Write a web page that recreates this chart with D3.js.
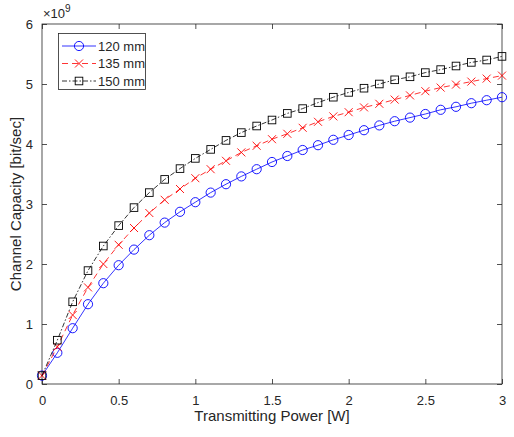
<!DOCTYPE html>
<html><head><meta charset="utf-8">
<script src="https://cdn.jsdelivr.net/npm/d3@7"></script>
<style>body{margin:0;background:#fff}svg{display:block}text{font-family:"Liberation Sans",Arial,sans-serif;fill:#262626}</style>
</head><body><svg id="c" width="514" height="437"></svg>
<script>
// Transmitting power [W]
const power = d3.range(31).map(i => +(i * 0.1).toFixed(1));
// Channel capacity in units of 1e9 bit/sec
const cap120 = [0.14,0.52,0.93,1.33,1.68,1.98,2.24,2.48,2.69,2.87,3.03,3.19,3.33,3.46,3.58,3.70,3.80,3.90,3.98,4.07,4.15,4.23,4.31,4.38,4.44,4.50,4.57,4.62,4.68,4.73,4.78];
const cap135 = [0.14,0.62,1.15,1.61,2.00,2.32,2.60,2.85,3.07,3.25,3.43,3.58,3.72,3.86,3.97,4.08,4.17,4.27,4.37,4.46,4.53,4.61,4.67,4.74,4.81,4.88,4.94,4.99,5.04,5.09,5.14];
const cap150 = [0.14,0.73,1.37,1.89,2.30,2.64,2.94,3.19,3.41,3.59,3.76,3.91,4.06,4.19,4.30,4.40,4.51,4.59,4.69,4.78,4.86,4.93,5.00,5.07,5.12,5.19,5.24,5.30,5.36,5.40,5.46];
const seriesNames = ["120 mm","135 mm","150 mm"];
const xTicks = [0,0.5,1,1.5,2,2.5,3];
const yTicks = [0,1,2,3,4,5,6];

const series = [
  {name: seriesNames[0], values: cap120, color: "#0000ff", dash: null, marker: "circle"},
  {name: seriesNames[1], values: cap135, color: "#ff0000", dash: "6,4", marker: "x"},
  {name: seriesNames[2], values: cap150, color: "#000000", dash: "5,2,1.5,2", marker: "square"}
];

const svg = d3.select("#c");
const L = 42, R = 502, T = 24, B = 384;
const x = d3.scaleLinear().domain([0,3]).range([L,R]);
const y = d3.scaleLinear().domain([0,6]).range([B,T]);
const axisCol = "#262626";

function styleAxis(g){
  g.select(".domain").remove();
  g.selectAll("line").attr("stroke", axisCol).attr("stroke-width", 0.8);
  g.selectAll("text").style("font-size","13px").attr("fill", axisCol);
}
const fmt = d => d3.format("")(d);
svg.append("g").attr("transform",`translate(0,${B})`)
  .call(d3.axisBottom(x).tickValues(xTicks).tickSize(-5).tickPadding(12).tickFormat(fmt)).call(styleAxis);
svg.append("g").attr("transform",`translate(0,${T})`)
  .call(d3.axisTop(x).tickValues(xTicks).tickSize(-5).tickFormat("")).call(styleAxis);
svg.append("g").attr("transform",`translate(${L},0)`)
  .call(d3.axisLeft(y).tickValues(yTicks).tickSize(-5).tickPadding(9).tickFormat(fmt)).call(styleAxis);
svg.append("g").attr("transform",`translate(${R},0)`)
  .call(d3.axisRight(y).tickValues(yTicks).tickSize(-5).tickFormat("")).call(styleAxis);

svg.append("rect").attr("x",L).attr("y",T).attr("width",R-L).attr("height",B-T)
  .attr("fill","none").attr("stroke",axisCol).attr("stroke-width",0.8);

// exponent
const ex = svg.append("text").attr("x",L+1).attr("y",T-6).style("font-size","13px");
ex.append("tspan").text("\u00d710");
ex.append("tspan").attr("dy",-6).style("font-size","10px").text("9");

svg.append("text").attr("x",(L+R)/2).attr("y",421).attr("text-anchor","middle").style("font-size","15px").text("Transmitting Power [W]");
svg.append("text").attr("transform",`translate(21,${(T+B)/2}) rotate(-90)`).attr("text-anchor","middle").style("font-size","15px").text("Channel Capacity [bit/sec]");

function drawMarker(g, type, cx, cy, color){
  if(type==="circle"){
    g.append("circle").attr("cx",cx).attr("cy",cy).attr("r",4.6).attr("fill","none").attr("stroke",color).attr("stroke-width",0.9);
  } else if(type==="x"){
    const s=4;
    g.append("path").attr("d",`M${cx-s},${cy-s}L${cx+s},${cy+s}M${cx-s},${cy+s}L${cx+s},${cy-s}`).attr("stroke",color).attr("stroke-width",0.9).attr("fill","none");
  } else {
    const s=3.8;
    g.append("rect").attr("x",cx-s).attr("y",cy-s).attr("width",2*s).attr("height",2*s).attr("fill","none").attr("stroke",color).attr("stroke-width",0.9);
  }
}

const line = d3.line().x((d,i)=>x(power[i])).y(d=>y(d));
series.forEach(s=>{
  const g = svg.append("g");
  g.append("path").datum(s.values).attr("d",line).attr("fill","none").attr("stroke",s.color)
    .attr("stroke-width",0.8).attr("stroke-dasharray",s.dash);
  s.values.forEach((v,i)=>drawMarker(g, s.marker, x(power[i]), y(v), s.color));
});

// legend
const lg = svg.append("g");
lg.append("rect").attr("x",58.5).attr("y",33.5).attr("width",87).attr("height",56).attr("fill","#fff").attr("stroke",axisCol).attr("stroke-width",0.8);
series.forEach((s,i)=>{
  const cy = 46 + i*17.5;
  lg.append("line").attr("x1",62).attr("x2",96).attr("y1",cy).attr("y2",cy).attr("stroke",s.color).attr("stroke-width",0.8).attr("stroke-dasharray",s.dash);
  drawMarker(lg, s.marker, 79, cy, s.color);
  lg.append("text").attr("x",98).attr("y",cy+4.5).style("font-size","13px").text(s.name);
});
</script></body></html>
